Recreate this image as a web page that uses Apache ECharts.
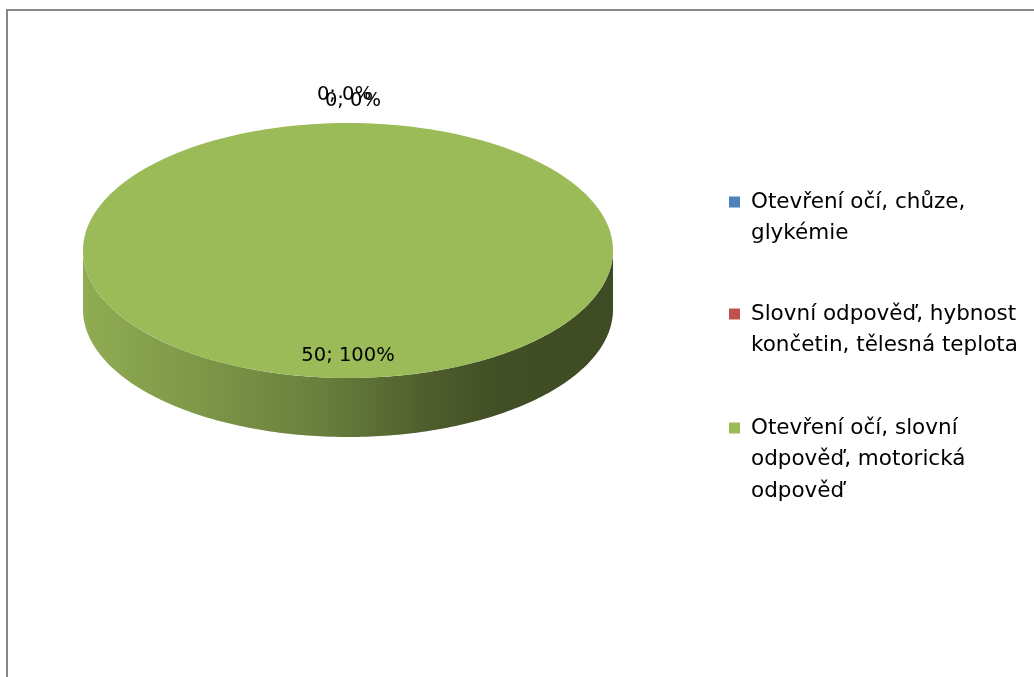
<!DOCTYPE html>
<html><head><meta charset="utf-8">
<script src="https://cdn.jsdelivr.net/npm/echarts@6/dist/echarts.min.js"></script>
<style>html,body{margin:0;padding:0;background:#fff;overflow:hidden}#c{width:1034px;height:677px}</style>
</head><body><div id="c"></div>
<script>
// ---- data ----
const categories = [
  'Otevření očí, chůze, glykémie',
  'Slovní odpověď, hybnost končetin, tělesná teplota',
  'Otevření očí, slovní odpověď, motorická odpověď'
];
const legendLabels = [
  'Otevření očí, chůze,\nglykémie',
  'Slovní odpověď, hybnost\nkončetin, tělesná teplota',
  'Otevření očí, slovní\nodpověď, motorická\nodpověď'
];
const values = [0, 0, 50];
const colors = ['#4f81bd', '#c0504d', '#9bbb59'];

// ---- layout / style ----
const FONT = 'DejaVu Sans';
const FS_LEGEND = 21.5;
const FS_LABEL = 19.5;
const LH = 31.5;
const P = { cx: 348, cy: 250.5, rx: 265, ry: 127.5, depth: 59 };

function shade(hex, f) {
  const n = parseInt(hex.slice(1), 16);
  const r = Math.round(((n >> 16) & 255) * f), g = Math.round(((n >> 8) & 255) * f), b = Math.round((n & 255) * f);
  return 'rgb(' + r + ',' + g + ',' + b + ')';
}

function renderSlice(idx) {
  return function (params, api) {
    const total = values.reduce((a, b) => a + b, 0);
    let start = 0;
    for (let k = 0; k < idx; k++) start += values[k] / total * 2 * Math.PI;
    const sweep = api.value(0) / total * 2 * Math.PI;
    const end = start + sweep;
    const pt = (t, dy) => [P.cx + P.rx * Math.sin(t), P.cy - P.ry * Math.cos(t) + (dy || 0)];
    const children = [];
    const N = 180;
    if (sweep > 0) {
      const a = Math.max(start, Math.PI / 2), b = Math.min(end, 3 * Math.PI / 2);
      if (b > a) {
        const pts = [];
        for (let i = 0; i <= N; i++) pts.push(pt(a + (b - a) * i / N));
        for (let i = N; i >= 0; i--) pts.push(pt(a + (b - a) * i / N, P.depth));
        const c = colors[idx];
        children.push({
          type: 'polygon', shape: { points: pts },
          style: {
            fill: {
              type: 'linear', global: true,
              x: P.cx - P.rx, y: 0, x2: P.cx + P.rx, y2: 0,
              colorStops: [
                { offset: 0, color: shade(c, 0.92) },
                { offset: 0.2, color: shade(c, 0.82) },
                { offset: 0.45, color: shade(c, 0.68) },
                { offset: 0.65, color: shade(c, 0.5) },
                { offset: 0.78, color: shade(c, 0.42) },
                { offset: 1, color: shade(c, 0.4) }
              ]
            }
          }
        });
      }
      const top = [];
      if (sweep < 2 * Math.PI - 1e-9) top.push([P.cx, P.cy]);
      for (let i = 0; i <= N; i++) top.push(pt(start + sweep * i / N));
      children.push({ type: 'polygon', shape: { points: top }, style: { fill: colors[idx] } });
    }
    const mid = start + sweep / 2;
    const v = api.value(0);
    const pct = Math.round(v / total * 100);
    let lx, ly;
    if (v > 0) {
      lx = P.cx + P.rx * 0.83 * Math.sin(mid);
      ly = P.cy - P.ry * 0.83 * Math.cos(mid);
    } else {
      lx = P.cx + P.rx * 1.0 * Math.sin(mid) - 3 + idx * 8;
      ly = P.cy - P.ry * 1.22 * Math.cos(mid) + idx * 6;
    }
    children.push({
      type: 'text', x: lx, y: ly, z2: 10,
      style: { text: v + '; ' + pct + '%', fontFamily: FONT, fontSize: FS_LABEL, fill: '#000', align: 'center', verticalAlign: 'middle' }
    });
    return { type: 'group', children: children };
  };
}

const legendTops = [202, 314, 428];
const legends = categories.map((name, i) => {
  const n = legendLabels[i].split('\n').length;
  return {
    orient: 'vertical', left: 729, top: legendTops[i] - (n - 1) * LH - LH / 2,
    data: [{ name: name, icon: 'rect' }],
    itemWidth: 11, itemHeight: 11, padding: 0,
    selectedMode: false,
    formatter: () => '\n'.repeat(n - 1) + legendLabels[i],
    textStyle: { fontFamily: FONT, fontSize: FS_LEGEND, lineHeight: LH, color: '#000', padding: [0, 0, 0, 6] }
  };
});

const chart = echarts.init(document.getElementById('c'), null, { renderer: 'canvas' });
chart.setOption({
  animation: false,
  backgroundColor: '#fff',
  legend: legends,
  graphic: [{ type: 'rect', shape: { x: 7, y: 10, width: 3000, height: 3000 }, style: { fill: 'none', stroke: '#878787', lineWidth: 2 }, silent: true }],
  series: categories.map((name, i) => ({
    type: 'custom', name: name, coordinateSystem: 'none',
    itemStyle: { color: colors[i] },
    data: [[values[i]]],
    renderItem: renderSlice(i)
  }))
});
</script></body></html>
